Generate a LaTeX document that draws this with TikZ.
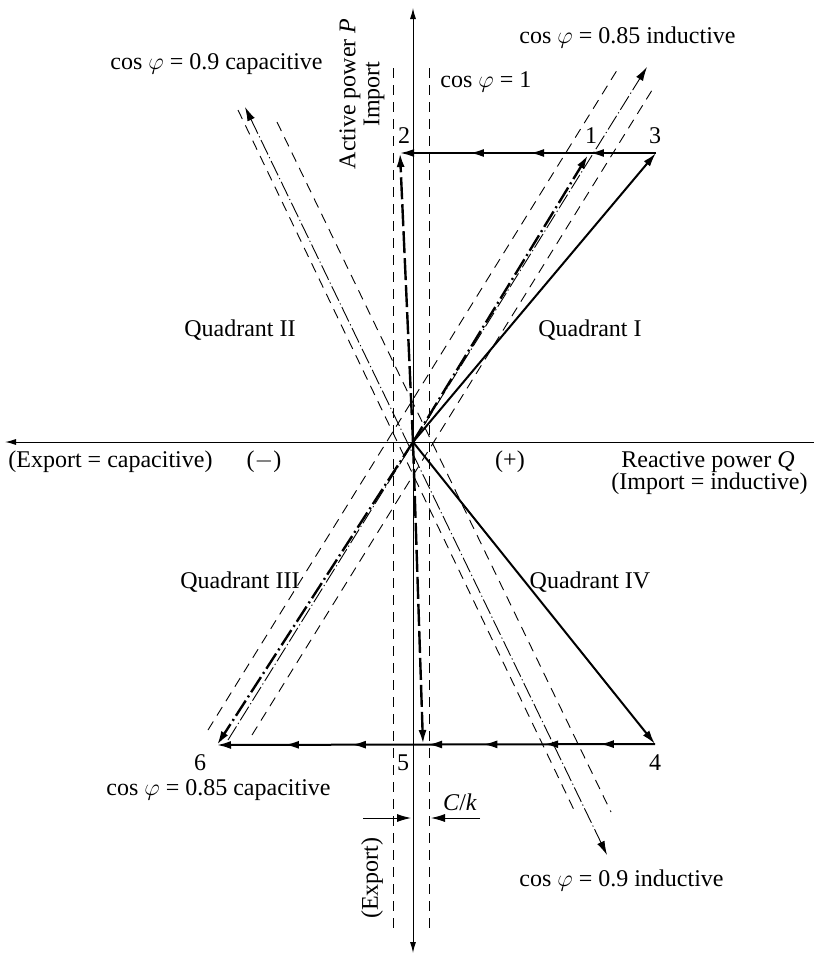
\documentclass[tikz,border=0pt]{standalone}
\usepackage{fontspec}
\setmainfont{Liberation Serif}
\usetikzlibrary{arrows.meta,decorations.markings}

\begin{document}
\begin{tikzpicture}[
        x=0.5pt, y=-0.5pt,
        font=\fontsize{12}{14}\selectfont,
        >={Latex[length=7pt,width=4pt]},
        axis/.style={line width=0.5pt, >={Latex[length=5.5pt,width=3pt]}},
        band/.style={line width=0.45pt, dash pattern=on 5pt off 3.5pt},
        pfline/.style={line width=0.45pt, dash pattern=on 8pt off 1.5pt on 0.6pt off 1.5pt},
        route/.style={line width=1pt},
        dashroute/.style={line width=1.2pt, dash pattern=on 11pt off 2.5pt},
        dotroute/.style={line width=1.2pt, dash pattern=on 9pt off 2pt on 1pt off 2pt},
        arrowat/.style={postaction={decorate, decoration={markings, mark=at position #1 with {\arrow{>}}}}},
        lbl/.style={inner sep=1pt}
    ]
    \useasboundingbox (0,0) rectangle (814,954);

    % Axes
    \coordinate (O) at (413,442);
    \coordinate (Ptop) at (413,8);
    \coordinate (Pbot) at (413,953);
    \coordinate (Qright) at (814,442);
    \coordinate (Qleft) at (5,442);
    \draw[axis, <->] (Pbot) -- (Ptop);
    \draw[axis, ->] (Qright) -- (Qleft);

    % C/k band round cos phi = 1
    \foreach \x/\n in {393/bandl, 429/bandr} {
        \coordinate (\n top) at (\x,68);
        \coordinate (\n bot) at (\x,932);
        \draw[band] (\n top) -- (\n bot);
    }

    % cos phi = 0.85 line with its band
    \coordinate (c85top) at (647,67);
    \coordinate (c85bot) at (228,740);
    \coordinate (c85ltop) at (619,67);
    \coordinate (c85lbot) at (208,730);
    \coordinate (c85rtop) at (654,87);
    \coordinate (c85rbot) at (252,735);
    \draw[pfline, ->] (c85bot) -- (c85top);
    \draw[band] (c85lbot) -- (c85ltop);
    \draw[band] (c85rbot) -- (c85rtop);

    % cos phi = 0.9 line with its band
    \coordinate (c90top) at (245,107);
    \coordinate (c90bot) at (607,855);
    \coordinate (c90ltop) at (238,110);
    \coordinate (c90lbot) at (575,812);
    \coordinate (c90rtop) at (277,122);
    \coordinate (c90rbot) at (611,812);
    \draw[pfline, <->] (c90top) -- (c90bot);
    \draw[band] (c90ltop) -- (c90lbot);
    \draw[band] (c90rtop) -- (c90rbot);

    % Operating points
    \coordinate (p1) at (588,155);
    \coordinate (p2) at (400,153);
    \coordinate (p3) at (656,153);
    \coordinate (p4) at (655,744);
    \coordinate (p5) at (423,744);
    \coordinate (p6) at (217,745);

    % Paths from the origin
    \draw[route, ->] (O) -- (p3);
    \draw[route, ->] (O) -- (p4);
    \draw[dotroute, ->] (O) -- (p1);
    \draw[dotroute, ->] (O) -- (p6);
    \draw[dashroute, ->] (O) -- (p2);
    \draw[dashroute, ->] (O) -- (p5);

    % Constant P paths
    \draw[route, ->, arrowat=0.258, arrowat=0.492, arrowat=0.727] (p3) -- (p2);
    \draw[route, ->, arrowat=0.126, arrowat=0.253, arrowat=0.392, arrowat=0.518, arrowat=0.692, arrowat=0.845] (p4) -- (p6);

    % C/k dimension
    \coordinate (ckl) at (363,818);
    \coordinate (ckli) at (411,818);
    \coordinate (ckr) at (480,818);
    \coordinate (ckri) at (431,818);
    \draw[line width=0.45pt, ->] (ckl) -- (ckli);
    \draw[line width=0.45pt, ->] (ckr) -- (ckri);
    \node[lbl] (cklbl) at (460,802) {\textit{C}/\textit{k}};

    % Point labels
    \node[lbl] (n1) at (591,136) {1};
    \node[lbl] (n2) at (404,136) {2};
    \node[lbl] (n3) at (655,136) {3};
    \node[lbl] (n4) at (655,763) {4};
    \node[lbl] (n5) at (403,763) {5};
    \node[lbl] (n6) at (200,763) {6};

    % Power factor labels
    \node[lbl, anchor=west] (l85i) at (517,38) {cos $\varphi$ = 0.85 inductive};
    \node[lbl, anchor=west] (l1) at (438,82) {cos $\varphi$ = 1};
    \node[lbl, anchor=west] (l90c) at (108,64) {cos $\varphi$ = 0.9 capacitive};
    \node[lbl, anchor=east] (l85c) at (333,790) {cos $\varphi$ = 0.85 capacitive};
    \node[lbl, anchor=west] (l90i) at (517,880) {cos $\varphi$ = 0.9 inductive};

    % Axis labels
    \node[lbl, rotate=90, align=center] (plbl) at (362,94) {Active power \textit{P}\\[-2pt] Import};
    \node[lbl, rotate=90] (exlbl) at (372,878) {(Export)};
    \node[lbl, anchor=west] (qneg) at (6,462) {(Export = capacitive)};
    \node[lbl] (minus) at (264,462) {($-$)};
    \node[lbl] (plus) at (510,462) {(+)};
    \node[lbl, anchor=east] (qlbl) at (797,462) {Reactive power \textit{Q}};
    \node[lbl, anchor=east] (qpos) at (810,484) {(Import = inductive)};

    % Quadrants
    \node[lbl] (q2) at (240,330) {Quadrant II};
    \node[lbl] (q1) at (590,330) {Quadrant I};
    \node[lbl] (q3) at (240,582) {Quadrant III};
    \node[lbl] (q4) at (590,582) {Quadrant IV};

\end{tikzpicture}
\end{document}
